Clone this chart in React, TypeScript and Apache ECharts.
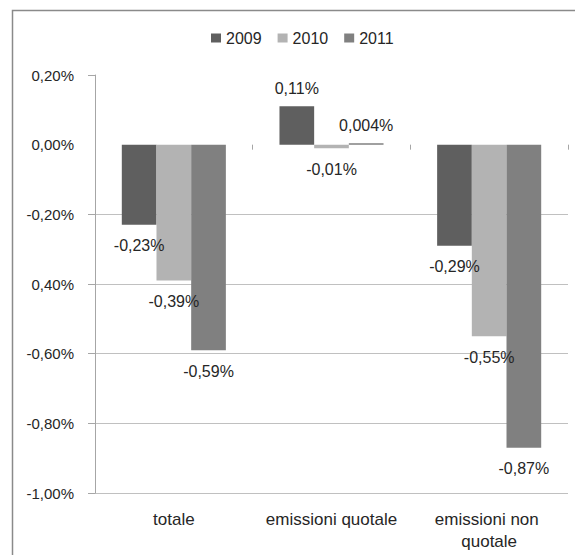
import React, { useEffect, useRef } from "react";
import * as echarts from "echarts";

const categories = ["totale", "emissioni quotale", "emissioni non quotale"];
const seriesNames = ["2009", "2010", "2011"];
const values2009 = [-0.23, 0.11, -0.29];
const values2010 = [-0.39, -0.01, -0.55];
const values2011 = [-0.59, 0.004, -0.87];
const yTickLabels = ["-1,00%", "-0,80%", "-0,60%", "0,40%", "-0,20%", "0,00%", "0,20%"];
const colors = ["#5f5f5f", "#b3b3b3", "#808080"];

const FONT = "Liberation Sans";

function makeSeries(name: string, vals: number[], color: string) {
  return {
    name,
    type: "bar",
    xAxisIndex: 0,
    barGap: "0%",
    barCategoryGap: "34%",
    itemStyle: { color },
    data: vals.map((v) => ({
      value: v,
      label: { position: v >= 0 ? "top" : "bottom", distance: v >= 0 ? 10 : 13 },
    })),
    label: {
      show: true,
      fontFamily: FONT,
      fontSize: 16,
      color: "#262626",
      formatter: (p: any) => String(p.value).replace(".", ",") + "%",
    },
  };
}

export default function App() {
  const ref = useRef<HTMLDivElement>(null);
  useEffect(() => {
    if (!ref.current) return;
    const chart = echarts.init(ref.current, null, { renderer: "svg" });
    chart.setOption({
      animation: false,
      backgroundColor: "#ffffff",
      graphic: [
        {
          type: "rect",
          shape: { x: 12.5, y: 10.5, width: 800, height: 800 },
          style: { fill: "none", stroke: "#8a8a8a", lineWidth: 1.5 },
          silent: true,
          z: -1,
        },
      ],
      legend: {
        data: seriesNames,
        left: 206,
        top: 25,
        icon: "rect",
        itemWidth: 10,
        itemHeight: 9,
        itemGap: 16,
        textStyle: { fontFamily: FONT, fontSize: 16, color: "#262626" },
      },
      grid: { left: 95, right: 7, top: 75, bottom: 62 },
      xAxis: [
        {
          type: "category",
          data: categories,
          position: "bottom",
          axisLine: { show: false, onZero: false },
          axisTick: { show: false },
          axisLabel: {
            fontFamily: FONT,
            fontSize: 17,
            color: "#262626",
            margin: 15,
            lineHeight: 22,
            width: 140,
            overflow: "break",
            interval: 0,
          },
        },
        {
          type: "category",
          data: categories,
          position: "bottom",
          axisLine: { show: false, onZero: true, onZeroAxisIndex: 0 },
          axisTick: { show: true, length: 5, lineStyle: { color: "#a6a6a6" } },
          axisLabel: { show: false },
          splitLine: { show: false },
        },
      ],
      yAxis: {
        type: "value",
        min: -1.0,
        max: 0.2,
        interval: 0.2,
        axisLine: { show: true, lineStyle: { color: "#a6a6a6", width: 1 } },
        axisTick: {
          show: true,
          length: 7,
          lineStyle: { color: "#a6a6a6" },
          customValues: [-1.0, -0.8, -0.6, -0.4, -0.2, 0.2],
        },
        splitLine: {
          show: true,
          lineStyle: {
            color: ["#c0c0c0", "#c0c0c0", "#c0c0c0", "#c0c0c0", "#c0c0c0", "rgba(0,0,0,0)", "#c0c0c0"],
            width: 1,
          },
        },
        axisLabel: {
          fontFamily: FONT,
          fontSize: 15,
          color: "#262626",
          margin: 21,
          formatter: (_v: number, i: number) => yTickLabels[i],
        },
      },
      series: [
        makeSeries(seriesNames[0], values2009, colors[0]),
        makeSeries(seriesNames[1], values2010, colors[1]),
        makeSeries(seriesNames[2], values2011, colors[2]),
      ],
    });
    return () => chart.dispose();
  }, []);
  return (
    <div
      ref={ref}
      style={{ position: "fixed", left: 0, top: 0, width: 575, height: 555, background: "#fff" }}
    />
  );
}
